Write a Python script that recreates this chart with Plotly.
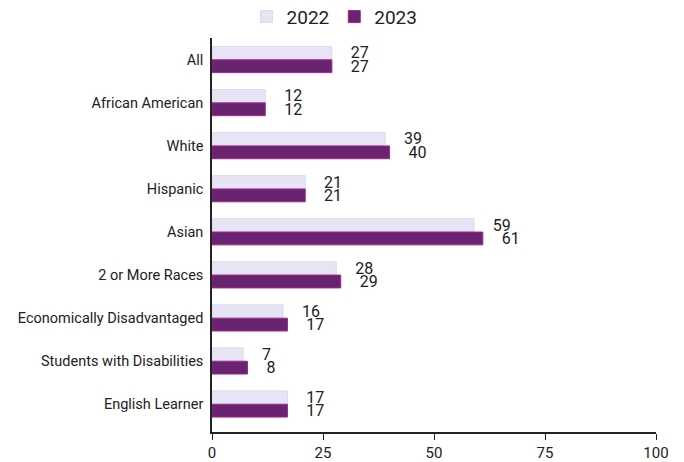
import plotly.graph_objects as go

categories = ["All", "African American", "White", "Hispanic", "Asian",
              "2 or More Races", "Economically Disadvantaged",
              "Students with Disabilities", "English Learner"]
values_2022 = [27, 12, 39, 21, 59, 28, 16, 7, 17]
values_2023 = [27, 12, 40, 21, 61, 29, 17, 8, 17]
tick_vals = [0, 25, 50, 75, 100]

label_font = dict(family="Roboto", size=16, color="#222222")

fig = go.Figure()
fig.add_trace(go.Bar(
    y=categories, x=values_2022, name="2022", orientation="h",
    marker=dict(color="#e7e5f5", line=dict(color="#d6dcef", width=1)),
    text=values_2022, texttemplate="    %{x}", textposition="outside",
    constraintext="none", cliponaxis=False, textfont=label_font,
))
fig.add_trace(go.Bar(
    y=categories, x=values_2023, name="2023", orientation="h",
    marker=dict(color="#6a2371", line=dict(color="#9a2a8a", width=1)),
    text=values_2023, texttemplate="    %{x}", textposition="outside",
    constraintext="none", cliponaxis=False, textfont=label_font,
))

fig.update_layout(
    width=684, height=462,
    margin=dict(l=212, r=28, t=38, b=30, autoexpand=False),
    paper_bgcolor="white", plot_bgcolor="white",
    barmode="group", bargap=0.38, bargroupgap=0.04,
    font=dict(family="Roboto", size=15, color="#222222"),
    legend=dict(orientation="h", x=0.276, y=1.054, xanchor="center", yanchor="middle",
                traceorder="normal", font=dict(size=19, color="#222222"),
                itemwidth=30, tracegroupgap=0),
    showlegend=True,
)
fig.update_xaxes(range=[0, 100], tickvals=tick_vals, showgrid=False, zeroline=False,
                 showline=True, linecolor="#222222", linewidth=1.5,
                 ticks="outside", ticklen=6, tickcolor="#222222",
                 ticklabelstandoff=0, tickfont=dict(size=15))
fig.update_yaxes(range=[8.65, -0.5], showgrid=False, showline=True,
                 linecolor="#222222", linewidth=1.5, ticks="", ticklabelstandoff=4,
                 tickfont=dict(size=14.5))

fig.write_html("out.html")
